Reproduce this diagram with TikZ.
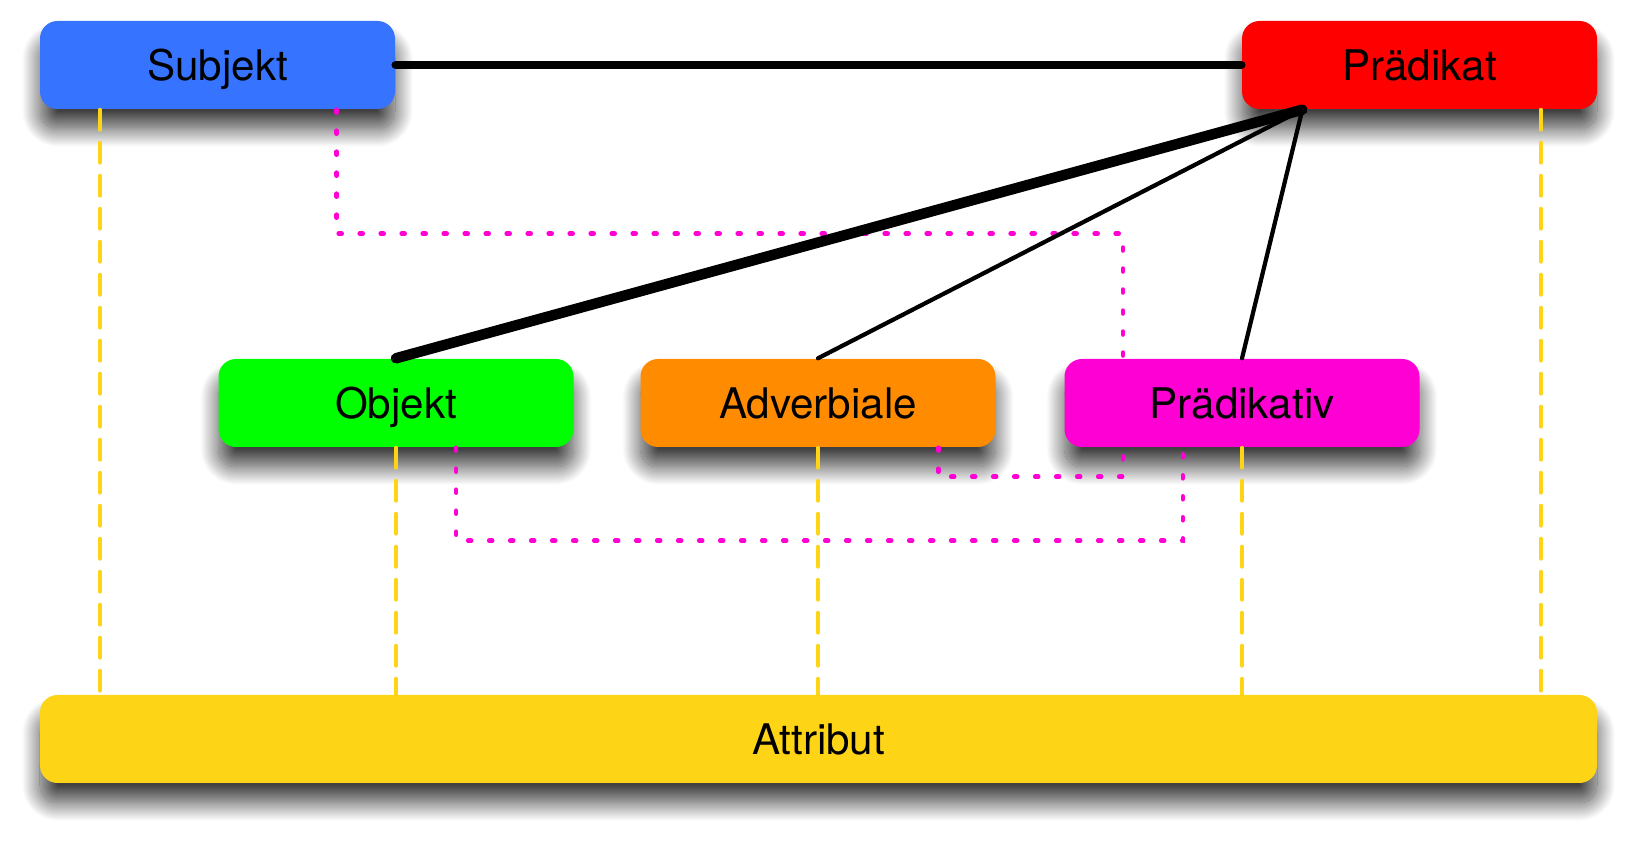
\documentclass[tikz,border=0pt]{standalone}
\usepackage{fontspec}
\setmainfont{TeX Gyre Heros}
\usetikzlibrary{shadows.blur}
\definecolor{subjblue}{RGB}{54,115,255}
\definecolor{praered}{RGB}{255,0,0}
\definecolor{objgreen}{RGB}{0,255,0}
\definecolor{advorange}{RGB}{255,140,0}
\definecolor{prvpink}{RGB}{255,0,212}
\definecolor{attrgold}{RGB}{253,213,22}
\begin{document}
\begin{tikzpicture}[
		box/.style={rounded corners=5pt, minimum width=3.55cm, minimum height=0.88cm,
			text height=0.31cm, text depth=0cm, font=\fontsize{12}{14}\selectfont,
			blur shadow={shadow xshift=0cm, shadow yshift=-0.2cm, shadow blur radius=0.18cm,
				shadow blur steps=30, shadow opacity=75}},
		link/.style={line width=1.2pt, line cap=round},
		attrline/.style={draw=attrgold, line width=1.1pt, line cap=round, dash pattern=on 0.2cm off 0.13cm},
		pdline/.style={draw=prvpink, line width=1.3pt, line cap=round, dash pattern=on 0.03cm off 0.18cm}]
	\useasboundingbox (0,0) rectangle (16.37,8.41);
	\node[box, fill=subjblue] (subj) at (2.175, 7.76) {Subjekt};
	\node[box, fill=praered] (prae) at (14.195, 7.76) {Prädikat};
	\node[box, fill=objgreen] (obj) at (3.96, 4.38) {Objekt};
	\node[box, fill=advorange] (adv) at (8.18, 4.38) {Adverbiale};
	\node[box, fill=prvpink] (prv) at (12.42, 4.38) {Prädikativ};
	\node[box, fill=attrgold, minimum width=15.57cm] (attr) at (8.185, 1.02) {Attribut};

	\draw[attrline] ([xshift=0.61cm]subj.south west) -- ([xshift=0.61cm]subj.south west |- attr.north);
	\foreach \nd in {obj, adv, prv}
		\draw[attrline] (\nd.south) -- (\nd.south |- attr.north);
	\draw[attrline] ([xshift=-0.57cm]prae.south east) -- ([xshift=-0.57cm]prae.south east |- attr.north);

	\draw[pdline] ([xshift=-0.59cm]subj.south east) -- ++(0,-1.24) -| ([xshift=0.59cm]prv.north west);
	\draw[pdline] ([xshift=-0.58cm]adv.south east) -- ++(0,-0.29) -| ([xshift=0.59cm]prv.south west);
	\draw[pdline] ([xshift=-1.18cm]obj.south east) -- ++(0,-0.93) -| ([xshift=1.19cm]prv.south west);

	\coordinate (praefoot) at ([xshift=0.61cm]prae.south west);
	\draw[link, line width=2.4pt] (subj.east) -- (prae.west);
	\draw[link, line width=3pt] (praefoot) -- (obj.north);
	\draw[link] (praefoot) -- (adv.north);
	\draw[link] (praefoot) -- (prv.north);
\end{tikzpicture}
\end{document}
